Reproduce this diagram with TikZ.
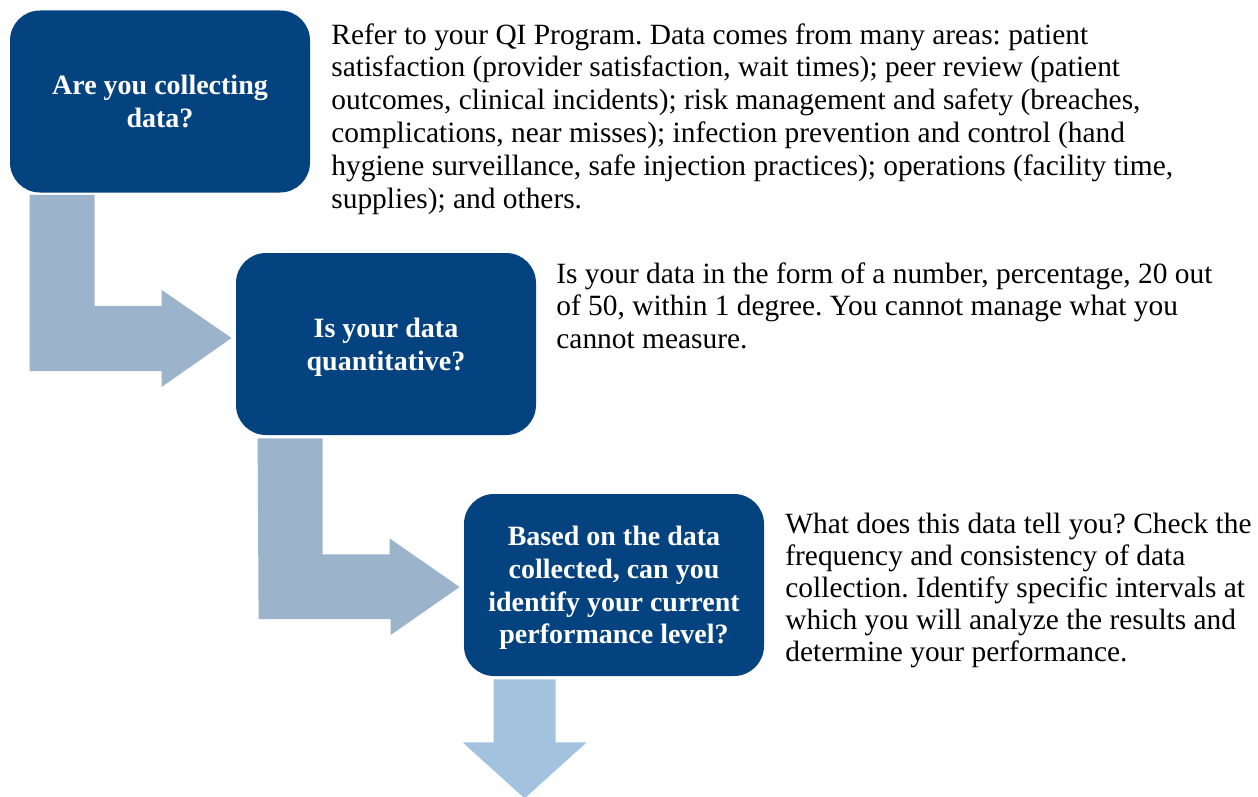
\documentclass[tikz,border=0pt]{standalone}
\usepackage{fontspec}
\setmainfont{Liberation Serif}
\usepackage{xcolor}
\usepackage{tikz}
\usetikzlibrary{calc}
\frenchspacing

\definecolor{qblue}{HTML}{04437F}
\definecolor{flowgrey}{HTML}{9BB4CC}
\definecolor{flowsky}{HTML}{A3C2E0}

\tikzset{
  qbox/.style={rectangle, rounded corners=15pt, fill=qblue, text=white,
    minimum width=150pt, minimum height=91pt, align=center, inner sep=2pt,
    text depth=0pt, font=\fontsize{14}{16.4}\selectfont\bfseries},
  note/.style={anchor=north west, inner sep=0pt, align=left,
    font=\fontsize{14.7}{16.4}\selectfont},
  flow/.style={fill=flowgrey, draw=none}
}

\begin{document}
\begin{tikzpicture}[x=0.5pt, y=-0.5pt]
                            \useasboundingbox (0,0) rectangle (1258,797);
                            % Nodes
                            \foreach \i/\j/\k/\txt in {1/160/101.5/{Are you collecting\\data?},
                                                       2/386/344/{Is your data\\quantitative?},
                                                       3/614/585/{Based on the data\\collected, can you\\identify your current\\performance level?}} {
                              \node[qbox] (q\i) at (\j,\k) {\txt};
                            }
                            \node[note] (n1) at (331,23) {Refer to your QI Program. Data comes from many areas: patient\\
                              satisfaction (provider satisfaction, wait times); peer review (patient\\
                              outcomes, clinical incidents); risk management and safety (breaches,\\
                              complications, near misses); infection prevention and control (hand\\
                              hygiene surveillance, safe injection practices); operations (facility time,\\
                              supplies); and others.};
                            \node[note] (n2) at (556,262) {Is your data in the form of a number, percentage, 20 out\\
                              of 50, within 1 degree. You cannot manage what you\\
                              cannot measure.};
                            \node[note, font=\fontsize{14.7}{16}\selectfont] (n3) at (785,513) {What does this data tell you? Check the\\
                              frequency and consistency of data\\
                              collection. Identify specific intervals at\\
                              which you will analyze the results and\\
                              determine your performance.};
                            % Edges
                            \fill[flow] ($(q1.south west)+(20,2)$) -- ++(65,0) -- ++(0,111) -- ++(67,0) -- ++(0,-16)
                              -- ($(q2.west)+(-4,-6)$) -- ++(-70,49) -- ++(0,-16) -- ++(-132,0) -- cycle;
                            \fill[flow] ($(q2.south west)+(22,3)$) -- ++(65,0) -- ++(0,116) -- ++(67,0) -- ++(0,-16)
                              -- ($(q3.west)+(-4,2)$) -- ++(-69,48) -- ++(0,-16) -- ++(-132,0) -- cycle;
                            \fill[flow, fill=flowsky] ($(q3.south west)+(30,3)$) -- ++(62,0) -- ++(0,63) -- ++(31,0)
                              -- ++(-62,56) -- ++(-62,-56) -- ++(31,0) -- cycle;
                        \end{tikzpicture}
\end{document}
